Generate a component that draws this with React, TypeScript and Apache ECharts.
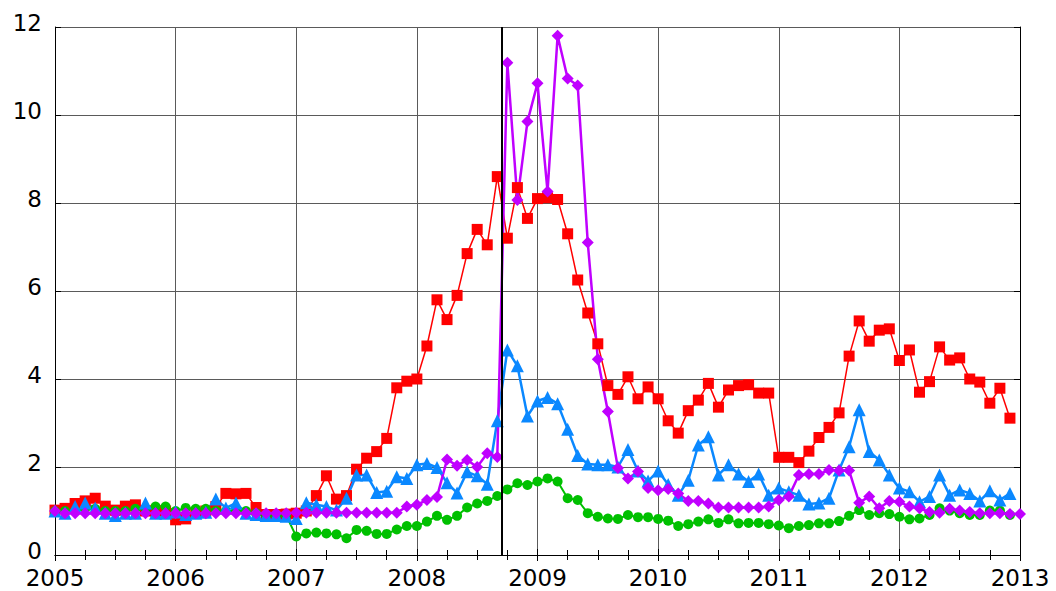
import React, { useEffect, useRef } from "react";
import * as echarts from "echarts";

const startYear = 2005;
const endYear = 2013;
const eventDate = 2008.7;
const yTicks = ["0", "2", "4", "6", "8", "10", "12"];

const redValues = [
  1.02, 1.06, 1.17, 1.23, 1.29, 1.11, 1.02, 1.11, 1.14, 1.0, 1.0, 1.0,
  0.8, 0.82, 0.95, 1.0, 1.1, 1.4, 1.39, 1.4, 1.08, 0.92, 0.92, 0.93,
  0.95, 1.0, 1.35, 1.8, 1.27, 1.35, 1.95, 2.2, 2.35, 2.65, 3.8, 3.95,
  4.0, 4.75, 5.8, 5.35, 5.9, 6.85, 7.4, 7.05, 8.6, 7.2, 8.35, 7.65,
  8.1, 8.12, 8.08, 7.3, 6.25, 5.5, 4.8, 3.85, 3.65, 4.05, 3.55, 3.82,
  3.55, 3.05, 2.77, 3.28, 3.52, 3.9, 3.36, 3.75, 3.85, 3.87, 3.68, 3.68,
  2.22, 2.22, 2.1, 2.36, 2.67, 2.9, 3.23, 4.52, 5.32, 4.86, 5.11, 5.14,
  4.42, 4.66, 3.7, 3.94, 4.73, 4.43, 4.48, 4.0, 3.93, 3.45, 3.79, 3.11,
];

const greenValues = [
  1.0, 1.0, 1.0, 1.05, 1.05, 1.0, 1.0, 1.0, 1.05, 1.05, 1.1, 1.1,
  1.0, 1.07, 1.05, 1.05, 1.0, 1.0, 1.0, 1.0, 0.95, 0.9, 0.9, 0.9,
  0.42, 0.49, 0.51, 0.49, 0.47, 0.38, 0.57, 0.55, 0.48, 0.48, 0.58, 0.66,
  0.66, 0.76, 0.89, 0.8, 0.89, 1.08, 1.17, 1.23, 1.34, 1.49, 1.63, 1.59,
  1.67, 1.74, 1.67, 1.29, 1.25, 0.95, 0.87, 0.83, 0.82, 0.91, 0.86, 0.86,
  0.82, 0.78, 0.66, 0.7, 0.76, 0.81, 0.73, 0.81, 0.72, 0.73, 0.73, 0.7,
  0.67, 0.61, 0.66, 0.68, 0.72, 0.72, 0.77, 0.89, 1.02, 0.91, 0.95, 0.93,
  0.87, 0.81, 0.83, 0.91, 1.06, 1.01, 0.95, 0.91, 0.91, 1.01, 1.01, 0.91,
];

const blueValues = [
  1.0, 0.95, 1.1, 1.18, 1.07, 0.95, 0.9, 0.95, 0.95, 1.18, 0.95, 0.95,
  0.98, 0.92, 0.95, 0.97, 1.27, 1.07, 1.18, 0.95, 0.92, 0.9, 0.9, 0.88,
  0.83, 1.19, 1.14, 1.1, 1.02, 1.29, 1.82, 1.82, 1.42, 1.45, 1.78, 1.74,
  2.05, 2.08, 1.99, 1.64, 1.41, 1.89, 1.8, 1.61, 3.05, 4.66, 4.3, 3.16,
  3.5, 3.58, 3.44, 2.86, 2.26, 2.07, 2.05, 2.05, 2.0, 2.4, 1.91, 1.68,
  1.91, 1.6, 1.36, 1.7, 2.5, 2.69, 1.82, 2.05, 1.84, 1.67, 1.84, 1.36,
  1.52, 1.44, 1.36, 1.16, 1.18, 1.29, 1.93, 2.46, 3.3, 2.35, 2.16, 1.82,
  1.52, 1.44, 1.21, 1.33, 1.82, 1.36, 1.48, 1.4, 1.23, 1.46, 1.25, 1.4,
];

const purpleValues = [
  1.0, 0.95, 0.95, 0.95, 0.95, 0.95, 0.95, 0.95, 0.95, 0.95, 0.95, 0.95,
  0.95, 0.95, 0.95, 0.95, 0.95, 0.95, 0.95, 0.95, 0.95, 0.95, 0.95, 0.95,
  0.96, 0.96, 0.96, 0.96, 0.96, 0.96, 0.96, 0.96, 0.96, 0.96, 0.96, 1.1,
  1.14, 1.25, 1.32, 2.17, 2.03, 2.16, 2.0, 2.31, 2.23, 11.19, 8.07, 9.85,
  10.72, 8.26, 11.8, 10.83, 10.67, 7.1, 4.45, 3.26, 1.98, 1.74, 1.9, 1.52,
  1.47, 1.5, 1.4, 1.23, 1.23, 1.17, 1.08, 1.08, 1.08, 1.08, 1.08, 1.1,
  1.25, 1.33, 1.82, 1.84, 1.84, 1.93, 1.92, 1.92, 1.19, 1.33, 1.06, 1.23,
  1.21, 1.1, 1.06, 0.98, 0.96, 1.05, 1.01, 0.98, 0.95, 0.95, 0.95, 0.93,
  0.93,
];

const toPairs = (vals: number[]) => vals.map((v, i) => [startYear + i / 12, v]);

const FONT = "DejaVu Sans";

export default function App() {
  const ref = useRef<HTMLDivElement>(null);
  useEffect(() => {
    if (!ref.current) return;
    const chart = echarts.init(ref.current, null, { renderer: "svg" });
    const gridLine = { show: true, lineStyle: { color: "#5a5a5a", width: 1 } };
    const axisLine = { show: true, lineStyle: { color: "#000", width: 1 } };
    chart.setOption({
      animation: false,
      backgroundColor: "#fff",
      grid: { left: 55, right: 36, top: 27, bottom: 36, containLabel: false },
      xAxis: [
        {
          type: "value",
          min: startYear,
          max: endYear,
          interval: 1,
          position: "bottom",
          axisLine,
          axisTick: { show: true, inside: true, length: 6, lineStyle: { color: "#000" } },
          minorTick: { show: true, splitNumber: 4, length: 5, lineStyle: { color: "#000" } },
          splitLine: gridLine,
          axisLabel: {
            color: "#000",
            fontFamily: FONT,
            fontSize: 23,
            margin: 11,
            formatter: (v: number) => String(Math.round(v)),
          },
        },
        {
          type: "value",
          min: startYear,
          max: endYear,
          interval: 1,
          position: "top",
          axisLine,
          axisTick: { show: true, inside: true, length: 6, lineStyle: { color: "#000" } },
          minorTick: { show: true, splitNumber: 4, length: 5, lineStyle: { color: "#000" } },
          splitLine: { show: false },
          axisLabel: { show: false },
        },
      ],
      yAxis: [
        {
          type: "value",
          min: 0,
          max: 12,
          interval: 2,
          position: "left",
          axisLine,
          axisTick: { show: true, inside: true, length: 6, lineStyle: { color: "#000" } },
          splitLine: gridLine,
          axisLabel: {
            color: "#000",
            fontFamily: FONT,
            fontSize: 23,
            margin: 13,
            verticalAlign: "bottom",
            lineHeight: 8,
            formatter: (v: number) => yTicks[Math.round(v / 2)] ?? String(v),
          },
        },
        {
          type: "value",
          min: 0,
          max: 12,
          interval: 2,
          position: "right",
          axisLine,
          axisTick: { show: true, inside: true, length: 6, lineStyle: { color: "#000" } },
          splitLine: { show: false },
          axisLabel: { show: false },
        },
      ],
      series: [
        {
          type: "line",
          data: toPairs(redValues),
          symbol: "rect",
          symbolSize: 11,
          lineStyle: { color: "#ff0000", width: 1.5 },
          itemStyle: { color: "#ff0000" },
        },
        {
          type: "line",
          data: toPairs(greenValues),
          symbol: "circle",
          symbolSize: 10,
          lineStyle: { color: "#00c000", width: 2 },
          itemStyle: { color: "#00c000" },
        },
        {
          type: "line",
          data: toPairs(blueValues),
          symbol: "triangle",
          symbolSize: 13,
          lineStyle: { color: "#0a88ff", width: 2.5 },
          itemStyle: { color: "#0a88ff" },
        },
        {
          type: "line",
          data: toPairs(purpleValues),
          symbol: "diamond",
          symbolSize: 12,
          lineStyle: { color: "#c000ff", width: 2.5 },
          itemStyle: { color: "#c000ff" },
          markLine: {
            silent: true,
            symbol: "none",
            label: { show: false },
            lineStyle: { color: "#000", width: 2, type: "solid" },
            data: [{ xAxis: eventDate }],
          },
        },
      ],
    });
    return () => chart.dispose();
  }, []);
  return (
    <div
      ref={ref}
      style={{ position: "absolute", left: 0, top: 0, width: 1056, height: 591 }}
    />
  );
}
